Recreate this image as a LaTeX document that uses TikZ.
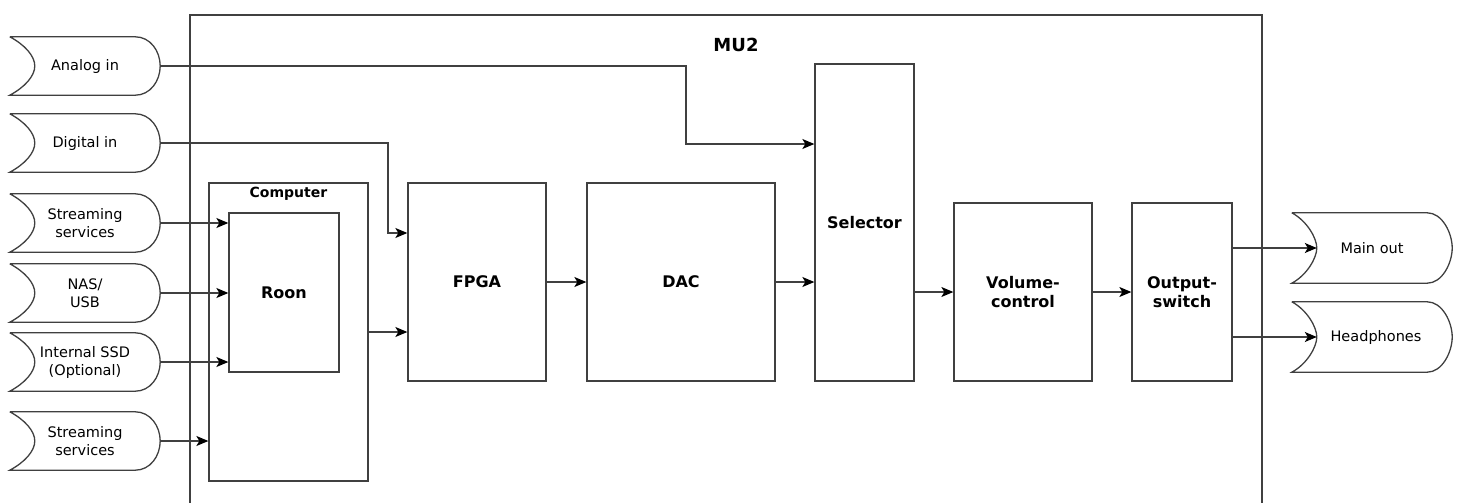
\documentclass[tikz,border=0pt]{standalone}
\usepackage{fontspec}
\setmainfont{DejaVu Sans}
\usetikzlibrary{arrows.meta,calc}
\tikzset{
  ln/.style={draw=black!75, line width=1.3pt},
  arr/.style={ln, -{Stealth[length=12pt,width=10pt,inset=3pt,color=black]}},
  blk/.style={ln, rectangle, inner sep=0pt, align=center, font=\bfseries\fontsize{16}{19}\selectfont},
  io/.style={rectangle, draw=none, inner sep=0pt, align=center, font=\fontsize{14.5}{18}\selectfont},
}
\newcommand{\ioshape}[1]{%
  \draw[ln] (#1.north west) -- ($(#1.north east)+(-25,0)$)
    .. controls ($(#1.north east)+(-10,0)$) and ($(#1.east)+(0,-15)$) .. (#1.east)
    .. controls ($(#1.east)+(0,15)$) and ($(#1.south east)+(-10,0)$) .. ($(#1.south east)+(-25,0)$)
    -- (#1.south west)
    .. controls ($(#1.south west)+(15,-8)$) and ($(#1.west)+(25,10)$) .. ($(#1.west)+(25,0)$)
    .. controls ($(#1.west)+(25,-10)$) and ($(#1.north west)+(15,8)$) .. (#1.north west);}
\begin{document}
\begin{tikzpicture}[x=1pt,y=-1pt]
\useasboundingbox (0,0) rectangle (1460,503);
% MU2 frame
\coordinate (fbl) at (190,503);
\coordinate (ftl) at (190,15);
\coordinate (ftr) at (1262,15);
\coordinate (fbr) at (1262,503);
\draw[ln] (fbl) -- (ftl) -- (ftr) -- (fbr);
\node[font=\bfseries\fontsize{18}{21}\selectfont] (mu2) at (736,45) {MU2};
% inputs
\node[io, minimum width=150pt, minimum height=58pt] (ain) at (85,66) {Analog in};
\node[io, minimum width=150pt, minimum height=58pt] (din) at (85,143) {Digital in};
\node[io, minimum width=150pt, minimum height=58pt] (s1) at (85,223) {Streaming\\services};
\node[io, minimum width=150pt, minimum height=58pt] (nas) at (85,293) {NAS/\\USB};
\node[io, minimum width=150pt, minimum height=58pt] (ssd) at (85,362) {Internal SSD\\(Optional)};
\node[io, minimum width=150pt, minimum height=58pt] (s2) at (85,441) {Streaming\\services};
% outputs
\node[io, minimum width=160pt, minimum height=70pt] (main) at (1372,248) {Main out};
\node[io, minimum width=160pt, minimum height=70pt] (hp) at (1372,337) {\hspace*{8pt}Headphones};
\foreach \n in {ain,din,s1,nas,ssd,s2,main,hp} {\ioshape{\n}}
% blocks
\node[blk, minimum width=159pt, minimum height=298pt] (comp) at (288.5,332) {};
\node[font=\bfseries\fontsize{14}{16}\selectfont] (complbl) at (288.5,194) {Computer};
\node[blk, minimum width=110pt, minimum height=159pt] (roon) at (284,292.5) {Roon};
\node[blk, minimum width=138pt, minimum height=198pt] (fpga) at (477,282) {FPGA};
\node[blk, minimum width=188pt, minimum height=198pt] (dac) at (681,282) {DAC};
\node[blk, minimum width=99pt, minimum height=317pt] (sel) at (864.5,222.5) {Selector};
\node[blk, minimum width=138pt, minimum height=178pt] (vol) at (1023,292) {Volume-\\control};
\node[blk, minimum width=100pt, minimum height=178pt] (osw) at (1182,292) {Output-\\switch};
% connectors
\coordinate (aj) at (686,144);
\coordinate (dj) at (388,233);
\draw[arr] (ain.east) -| (aj) -- (aj -| sel.west);
\draw[arr] (din.east) -| (dj) -- (dj -| fpga.west);
\draw[arr] (s1.east) -- (s1.east -| roon.west);
\draw[arr] (nas.east) -- (nas.east -| roon.west);
\draw[arr] (ssd.east) -- (ssd.east -| roon.west);
\draw[arr] (s2.east) -- (s2.east -| comp.west);
\draw[arr] (comp.east) -- (comp.east -| fpga.west);
\draw[arr] (fpga.east) -- (dac.west);
\draw[arr] (dac.east) -- (dac.east -| sel.west);
\draw[arr] (vol.west -| sel.east) -- (vol.west);
\draw[arr] (vol.east) -- (osw.west);
\draw[arr] (main.west -| osw.east) -- ([xshift=25pt]main.west);
\draw[arr] (hp.west -| osw.east) -- ([xshift=25pt]hp.west);
\end{tikzpicture}
\end{document}
